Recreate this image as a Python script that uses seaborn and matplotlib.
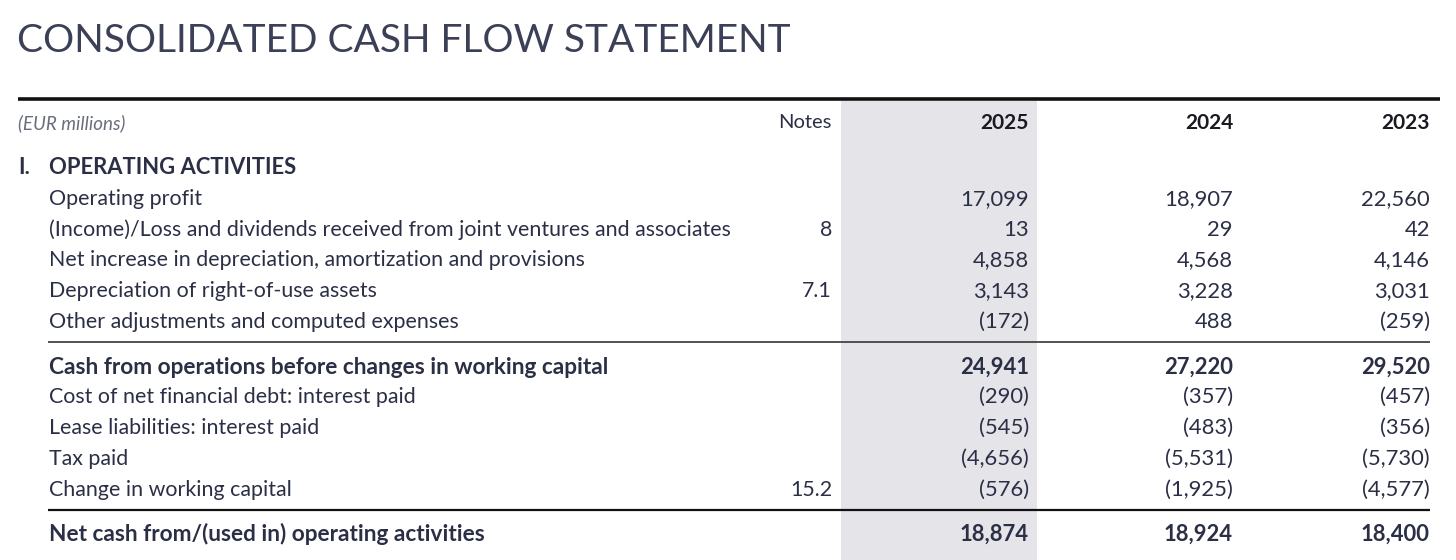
import matplotlib
matplotlib.use("Agg")
import matplotlib.pyplot as plt
from matplotlib.patches import Rectangle
import seaborn as sns

sns.set_theme(style="white")
plt.rcParams["font.family"] = ["Lato", "DejaVu Sans"]

# ---- data ----
title = "CONSOLIDATED CASH FLOW STATEMENT"
unit_label = "(EUR millions)"
section_num = "I."
section_label = "OPERATING ACTIVITIES"
notes_header = "Notes"
years = ["2025", "2024", "2023"]
row_labels = [
    "Operating profit",
    "(Income)/Loss and dividends received from joint ventures and associates",
    "Net increase in depreciation, amortization and provisions",
    "Depreciation of right-of-use assets",
    "Other adjustments and computed expenses",
    "Cash from operations before changes in working capital",
    "Cost of net financial debt: interest paid",
    "Lease liabilities: interest paid",
    "Tax paid",
    "Change in working capital",
    "Net cash from/(used in) operating activities",
]
row_notes = ["", "8", "", "7.1", "", "", "", "", "", "15.2", ""]
values_2025 = [17099, 13, 4858, 3143, -172, 24941, -290, -545, -4656, -576, 18874]
values_2024 = [18907, 29, 4568, 3228, 488, 27220, -357, -483, -5531, -1925, 18924]
values_2023 = [22560, 42, 4146, 3031, -259, 29520, -457, -356, -5730, -4577, 18400]
bold_rows = [5, 10]


def fmt(v):
    s = f"{abs(v):,}"
    return f"({s})" if v < 0 else s


TEXT = "#2b2f45"
TITLE_C = "#3b4057"
SHADE = "#e4e4e9"

fig = plt.figure(figsize=(14.56, 5.6), dpi=100)
ax = fig.add_axes([0, 0, 1, 1])
ax.set_xlim(0, 1456)
ax.set_ylim(560, 0)
ax.axis("off")

# shaded current-year column
ax.add_patch(Rectangle((841, 101), 196, 470, facecolor=SHADE, edgecolor="none", zorder=0))

# title
ax.text(17, 41, title, fontsize=28, fontweight="normal", color=TITLE_C, va="center", ha="left")

# top rule
ax.hlines(99, 18, 1440, color="#111111", lw=2.6)

DY = 2
# header row
hy = 122 + 1
ax.text(18, hy, unit_label, fontsize=13.5, style="italic", color="#6a6e7c", va="center")
ax.text(832, hy, notes_header, fontsize=14.5, color=TEXT, va="center", ha="right")
col_x = [1029, 1233, 1430]
for x, yr in zip(col_x, years):
    ax.text(x, hy, yr, fontsize=15, fontweight="bold", color="#1a1a22", va="center", ha="right")

# section heading
ax.text(18, 166 + DY, section_num, fontsize=15.8, fontweight="bold", color=TEXT, va="center")
ax.text(49, 166 + DY, section_label, fontsize=15.8, fontweight="bold", color=TEXT, va="center")

# row y positions (layout)
row_y = [197, 228, 258, 289, 320, 365, 395, 426, 457, 488, 532]

for i, lab in enumerate(row_labels):
    y = row_y[i] + DY
    b = i in bold_rows
    w = "bold" if b else "normal"
    fs_lab = 16.3 if b else 15.4
    ax.text(49, y, lab, fontsize=fs_lab, fontweight=w, color=TEXT, va="center", ha="left")
    if row_notes[i]:
        ax.text(832, y, row_notes[i], fontsize=15.4, color=TEXT, va="center", ha="right")
    for x, vals in zip(col_x, [values_2025, values_2024, values_2023]):
        ax.text(x, y, fmt(vals[i]), fontsize=15.8, fontweight=w, color=TEXT, va="center", ha="right")

# separator rules
ax.hlines(342, 48, 1430, color="#444444", lw=1.3)
ax.hlines(510, 48, 1430, color="#111111", lw=1.6)

fig.savefig("out.png", dpi=100)
